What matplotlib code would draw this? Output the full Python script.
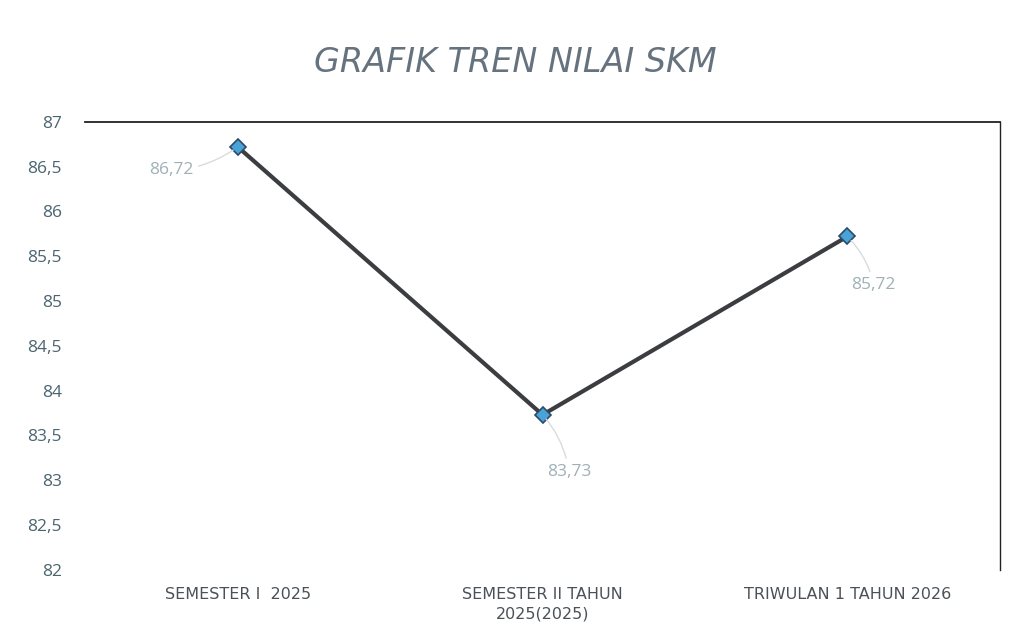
import matplotlib.pyplot as plt
import numpy as np

# data
categories = ["SEMESTER I  2025", "SEMESTER II TAHUN\n2025(2025)", "TRIWULAN 1 TAHUN 2026"]
values = [86.72, 83.73, 85.72]
value_labels = ["86,72", "83,73", "85,72"]
y_ticks = [82, 82.5, 83, 83.5, 84, 84.5, 85, 85.5, 86, 86.5, 87]

fig = plt.figure(figsize=(10.16, 6.41), dpi=100)
ax = fig.add_axes([0.084, 0.111, 0.9, 0.699])

x = np.arange(len(categories))
ax.plot(x, values, color="#3b3d40", linewidth=3, marker="D", markersize=8,
        markerfacecolor="#4aa3d6", markeredgecolor="#2c4a6a", markeredgewidth=1.2, zorder=3)

# data labels with faint leader lines
offsets = [(-48, -17), (19, -41), (19, -35)]
for xi, v, lab, off in zip(x, values, value_labels, offsets):
    ax.annotate(lab, (xi, v), xytext=off, textcoords="offset points",
                ha="center", va="center", fontsize=12.5, color="#9fb0b8", family="Open Sans",
                arrowprops=dict(arrowstyle="-", color="#d8dcde", lw=1,
                                connectionstyle="arc3,rad=0.15", shrinkA=2, shrinkB=4))

ax.set_xlim(-0.5, 2.5)
ax.set_ylim(82, 87)
ax.set_yticks(y_ticks)
ax.set_yticklabels([f"{t:g}".replace(".", ",") for t in y_ticks],
                   fontsize=12.5, color="#4a6470", family="Open Sans")
ax.set_xticks(x)
ax.set_xticklabels(categories, fontsize=11.5, color="#4a5258", family="DejaVu Sans",
                   linespacing=1.4)
ax.tick_params(length=0, pad=12)
ax.tick_params(axis="y", pad=17)

for side in ["left", "bottom"]:
    ax.spines[side].set_visible(False)
ax.spines["top"].set_color("#222222")
ax.spines["top"].set_linewidth(1.3)
ax.spines["right"].set_color("#222222")
ax.spines["right"].set_linewidth(1.0)

fig.text(0.507, 0.903, "GRAFIK TREN NILAI SKM", ha="center", va="center",
         fontsize=24, style="italic", color="#66737f", family="DejaVu Sans")

fig.savefig("out.png", dpi=100)
